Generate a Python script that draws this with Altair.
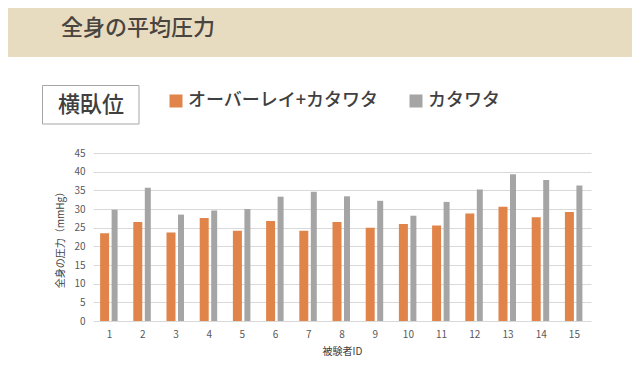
import altair as alt
import pandas as pd

ids = list(range(1, 15 + 1))
overlay = [23.5, 26.5, 23.7, 27.6, 24.2, 26.8, 24.2, 26.5, 25.0, 26.0, 25.6, 28.8, 30.6, 27.8, 29.2]
katawata = [29.8, 35.7, 28.5, 29.6, 30.0, 33.3, 34.6, 33.4, 32.2, 28.2, 31.9, 35.2, 39.3, 37.8, 36.3]
series = ["オーバーレイ+カタワタ", "カタワタ"]
colors = ["#E0844A", "#A5A5A5"]
y_ticks = [0, 5, 10, 15, 20, 25, 30, 35, 40, 45]

header = "全身の平均圧力"
posture = "横臥位"
x_title = "被験者ID"
y_title = "全身の圧力（mmHg）"

FONT = "Noto Sans CJK JP"

rows = []
for i, a, b in zip(ids, overlay, katawata):
    rows.append({"ID": i, "系列": series[0], "値": a})
    rows.append({"ID": i, "系列": series[1], "値": b})
df = pd.DataFrame(rows)

W, H = 498, 168
one = pd.DataFrame({"k": [0]})

color = alt.Color(
    "系列:N",
    scale=alt.Scale(domain=series, range=colors),
    legend=alt.Legend(
        title=None, orient="none", legendX=74, legendY=-61, direction="horizontal",
        symbolType="square", symbolSize=169, symbolStrokeWidth=0, symbolOpacity=1,
        labelFont=FONT, labelFontSize=18, labelFontWeight=500, labelColor="#404040",
        labelOffset=3, columnPadding=28, padding=0, labelLimit=400,
    ),
)

x = alt.X(
    "ID:O",
    scale=alt.Scale(paddingInner=0, paddingOuter=0),
    axis=alt.Axis(
        title=x_title, labelAngle=0, ticks=False, domain=False, labelPadding=8,
        labelFont=FONT, labelFontSize=10, labelColor="#595959",
        titleFont=FONT, titleFontSize=10, titleFontWeight="normal", titleColor="#404040",
        titlePadding=7,
    ),
)
y = alt.Y(
    "値:Q",
    scale=alt.Scale(domain=[0, 45], nice=False),
    axis=alt.Axis(
        title=y_title, values=y_ticks, ticks=False, domain=False, labelPadding=8,
        labelFont=FONT, labelFontSize=10, labelColor="#595959",
        gridColor="#D9D9D9", gridWidth=1,
        titleFont=FONT, titleFontSize=10, titleFontWeight="normal", titleColor="#404040",
        titlePadding=8,
    ),
)

bars1 = alt.Chart(df).transform_filter(alt.datum["系列"] == series[0]).mark_bar(
    width=9, xOffset=-5
).encode(x=x, y=y, color=color)
bars2 = alt.Chart(df).transform_filter(alt.datum["系列"] == series[1]).mark_bar(
    width=6, xOffset=5
).encode(x=x, y=y, color=color)

band = alt.Chart(one).mark_rect(color="#E8DCC0").encode(
    x=alt.value(-85), x2=alt.value(539), y=alt.value(-145), y2=alt.value(-96)
)
head_text = alt.Chart(one).mark_text(
    text=header, font=FONT, fontSize=22, fontWeight=500, color="#4A4440",
    align="left", baseline="middle"
).encode(x=alt.value(-32), y=alt.value(-125))

box = alt.Chart(one).mark_rect(fill="white", stroke="#A6A6A6", strokeWidth=1).encode(
    x=alt.value(-50.5), x2=alt.value(46), y=alt.value(-67.5), y2=alt.value(-29)
)
box_text = alt.Chart(one).mark_text(
    text=posture, font=FONT, fontSize=22, fontWeight=500, color="#404040",
    align="center", baseline="middle"
).encode(x=alt.value(-2), y=alt.value(-48))

chart = alt.layer(band, head_text, box, box_text, bars1, bars2).properties(
    width=W, height=H,
    autosize=alt.AutoSizeParams(type="none"),
    padding={"left": 85, "top": 145, "right": 41, "bottom": 48},
    background="white",
).configure_view(stroke=None)

chart.save("out.html", embed_options={"renderer": "svg", "actions": False})
